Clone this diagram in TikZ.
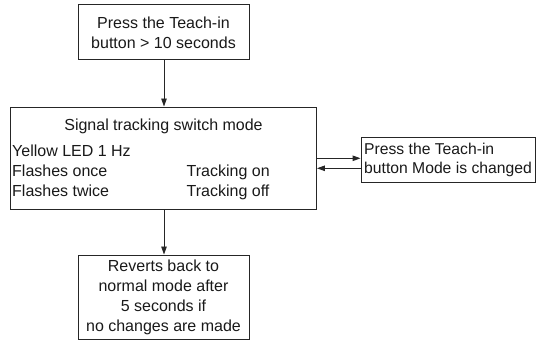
\documentclass[tikz,border=0pt]{standalone}
\usepackage{fontspec}
\setmainfont{Liberation Sans}
\usetikzlibrary{arrows.meta}
\begin{document}
\begin{tikzpicture}[x=1pt,y=-1pt,
  box/.style={draw=black!85, line width=0.9pt, rectangle, inner sep=0pt, align=center,
    font=\fontsize{16}{20}\selectfont, text=black!90},
  txt/.style={inner sep=0pt, font=\fontsize{16}{20}\selectfont, text=black!90},
  conn/.style={draw=black!85, line width=0.9pt, -{Triangle[length=8pt,width=5.5pt]}}]
\useasboundingbox (0,0) rectangle (536,344);
\node[box, minimum width=171pt, minimum height=55.3pt] (top) at (163.5,32.3)
  {Press the Teach-in\\button > 10 seconds};
\node[box, minimum width=306.5pt, minimum height=102pt] (main) at (163.25,158) {};
\node[txt, anchor=base] (t1) at (163.5,130.5) {Signal tracking switch mode};
\node[txt, anchor=base west] (t2) at (12,157) {Yellow LED 1 Hz};
\node[txt, anchor=base west] (t3) at (12,177) {Flashes once};
\node[txt, anchor=base west] (t4) at (12,197) {Flashes twice};
\node[txt, anchor=base west] (t5) at (186.5,177) {Tracking on};
\node[txt, anchor=base west] (t6) at (186.5,197) {Tracking off};
\node[box, minimum width=174pt, minimum height=45.4pt, align=left,
  font=\fontsize{15.7}{18.5}\selectfont] (right) at (448,160)
  {Press the Teach-in\\button Mode is changed};
\node[box, minimum width=171pt, minimum height=84pt] (bot) at (163.5,297)
  {Reverts back to\\normal mode after\\5 seconds if\\no changes are made};
\draw[conn] (top.south -| 164,0) -- (main.north -| 164,0);
\draw[conn] (main.south -| 164,0) -- (bot.north -| 164,0);
\draw[conn] (main.east |- 0,158.3) -- (right.west |- 0,158.3);
\draw[conn] (right.west |- 0,168.3) -- (main.east |- 0,168.3);
\end{tikzpicture}
\end{document}
